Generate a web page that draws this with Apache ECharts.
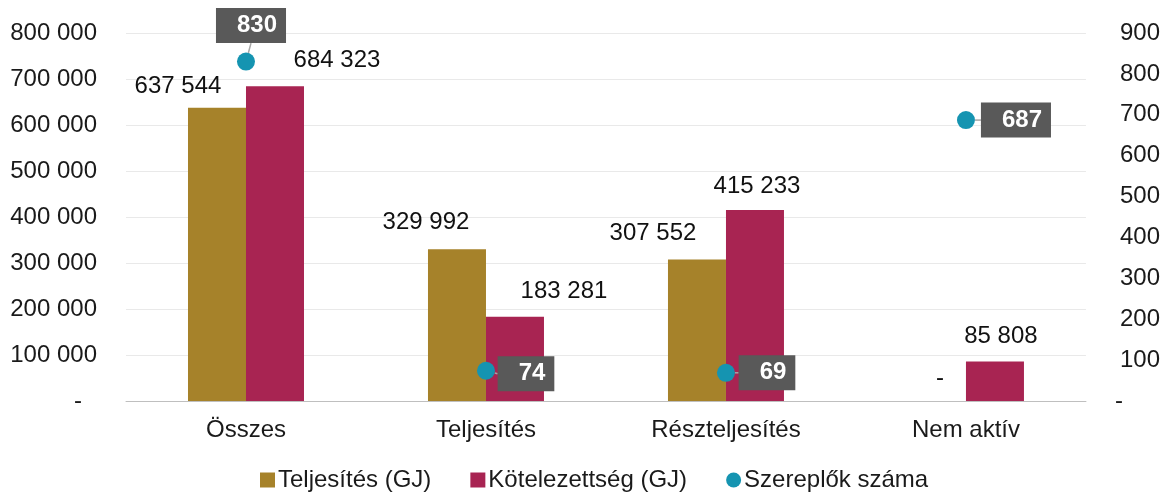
<!DOCTYPE html>
<html>
<head>
<meta charset="utf-8">
<script src="https://cdn.jsdelivr.net/npm/echarts@6/dist/echarts.min.js"></script>
<style>
  html, body { margin: 0; padding: 0; background: #fff; }
  #chart-container { width: 1163px; height: 492px; }
</style>
</head>
<body>
<div id="chart-container"></div>
<script>
var categories = ['Összes', 'Teljesítés', 'Részteljesítés', 'Nem aktív'];
var teljesites = [637544, 329992, 307552, 0];
var kotelezettseg = [684323, 183281, 415233, 85808];
var szereplok = [830, 74, 69, 687];

// label nudges (px)
var goldOffsets = [[-39, -4], [-31, -10], [-44, -9], [3, -6]];
var redOffsets = [[62, -9], [49, -8], [2, -7], [6, -8]];
var dotShift = [[5, -36], [40, 3], [41, 0], [50, 0]];

var FONT = '"Liberation Sans", Arial, sans-serif';
var FS = 24;

function fmt(v) {
  if (v === 0) return '-';
  return String(v).replace(/\B(?=(\d{3})+(?!\d))/g, ' ');
}

function barData(values, offsets) {
  return values.map(function (v, i) {
    return { value: v, label: { offset: offsets[i] } };
  });
}

var dom = document.getElementById('chart-container');
var myChart = echarts.init(dom, null, {renderer: 'canvas'});

option = {
  animation: false,
  textStyle: {fontFamily: FONT},
  grid: {left: 126, right: 77, top: 33, bottom: 91},
  legend: {
    bottom: -5,
    left: 255,
    itemWidth: 15,
    itemHeight: 15,
    itemGap: 39,
    textStyle: {fontSize: FS, color: '#1a1a1a', fontFamily: FONT, padding: [0, 0, 0, -2]},
    data: [
      {name: 'Teljesítés (GJ)', icon: 'rect'},
      {name: 'Kötelezettség (GJ)', icon: 'rect'},
      {name: 'Szereplők száma', icon: 'circle'}
    ]
  },
  xAxis: {
    type: 'category',
    data: categories,
    axisTick: {show: false},
    axisLine: {lineStyle: {color: '#bfbfbf'}},
    axisLabel: {fontSize: FS, color: '#1a1a1a', margin: 17}
  },
  yAxis: [
    {
      type: 'value', min: 0, max: 800000, interval: 100000,
      splitLine: {lineStyle: {color: '#e9e9e9'}},
      axisLine: {show: false}, axisTick: {show: false},
      axisLabel: {
        fontSize: FS, color: '#1a1a1a', margin: 29,
        formatter: function (v) { return v === 0 ? '{d|-}' : fmt(v); },
        rich: {d: {fontSize: FS, color: '#1a1a1a', padding: [0, 15, 0, 0]}}
      }
    },
    {
      type: 'value', min: 0, max: 900, interval: 100,
      splitLine: {show: false},
      axisLine: {show: false}, axisTick: {show: false},
      axisLabel: {
        fontSize: FS, color: '#1a1a1a', margin: 29,
        formatter: function (v) { return v === 0 ? '-' : '{n|' + v + '}'; },
        rich: {n: {fontSize: FS, color: '#1a1a1a', padding: [0, 0, 0, 5]}}
      }
    }
  ],
  series: [
    {
      name: 'Teljesítés (GJ)',
      type: 'bar',
      barWidth: 58,
      barGap: '0%',
      itemStyle: {color: '#a6822a'},
      label: {show: true, position: 'top', fontSize: FS, color: '#111',
        formatter: function (p) { return fmt(p.value); }},
      data: barData(teljesites, goldOffsets)
    },
    {
      name: 'Kötelezettség (GJ)',
      type: 'bar',
      barWidth: 58,
      itemStyle: {color: '#a82452'},
      label: {show: true, position: 'top', fontSize: FS, color: '#111',
        formatter: function (p) { return fmt(p.value); }},
      data: barData(kotelezettseg, redOffsets)
    },
    {
      name: 'Szereplők száma',
      type: 'scatter',
      yAxisIndex: 1,
      symbolSize: 18,
      itemStyle: {color: '#1594b1', opacity: 1},
      z: 5,
      label: {
        show: true, position: 'inside',
        color: '#fff', fontSize: FS, fontWeight: 'bold',
        backgroundColor: '#595959',
        padding: [6, 9, 5, 21]
      },
      labelLine: {show: true, lineStyle: {color: '#a6a6a6', width: 1.5}},
      labelLayout: function (p) {
        return {dx: dotShift[p.dataIndex][0], dy: dotShift[p.dataIndex][1]};
      },
      data: szereplok
    }
  ]
};

myChart.setOption(option);
window.addEventListener('resize', myChart.resize);
</script>
</body>
</html>
